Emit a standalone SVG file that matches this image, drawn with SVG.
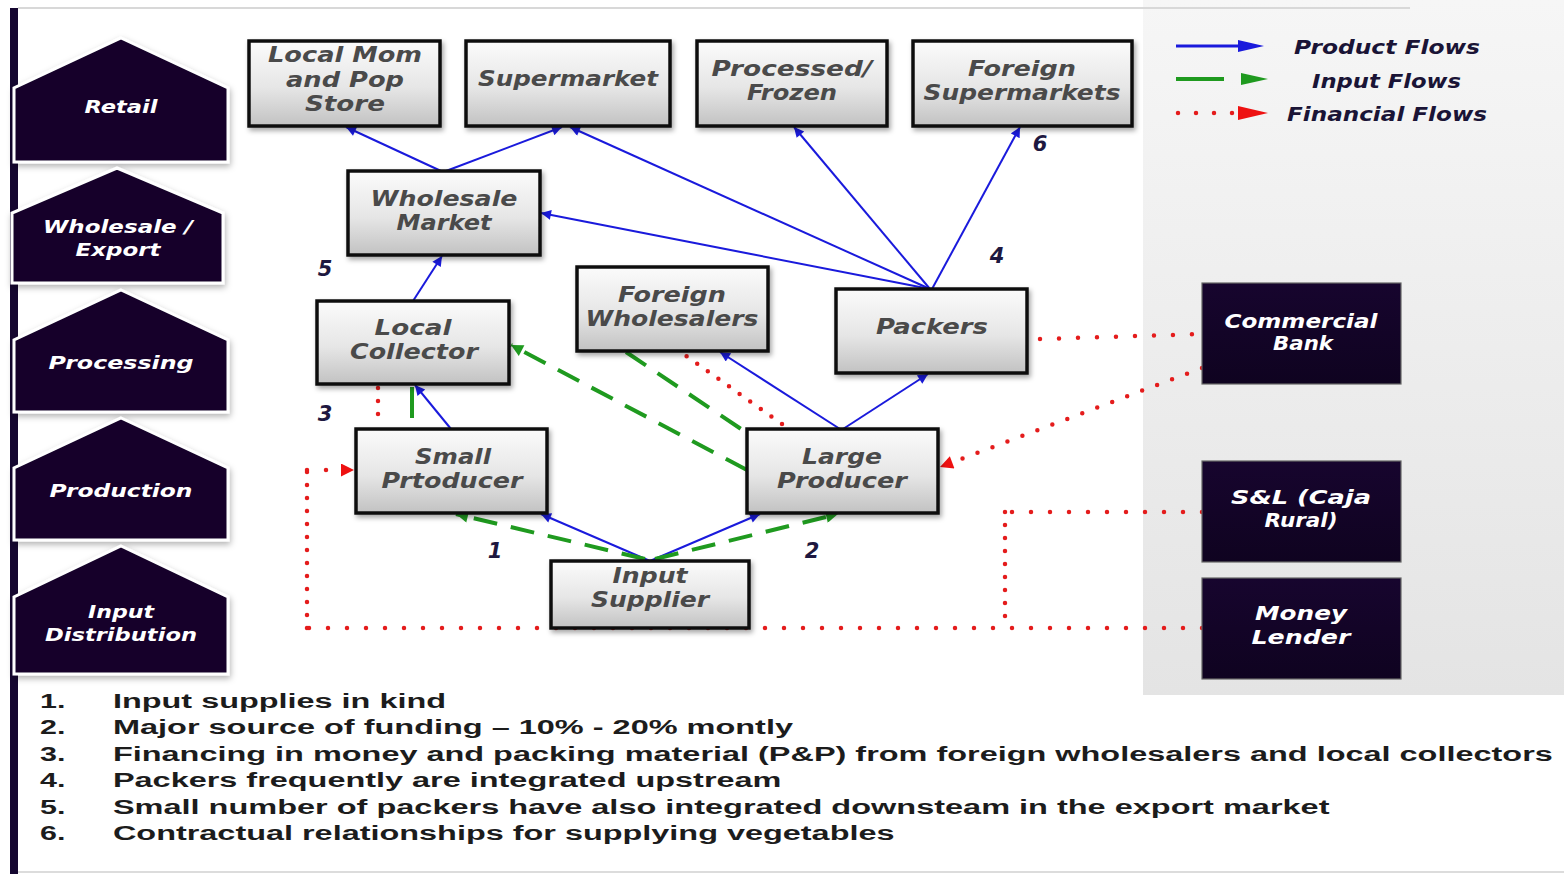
<svg xmlns="http://www.w3.org/2000/svg" width="1564" height="874" viewBox="0 0 1564 874">
<defs>
<linearGradient id="boxg" x1="0" y1="0" x2="0" y2="1">
<stop offset="0" stop-color="#fbfbfb"/><stop offset="0.55" stop-color="#e6e6e6"/><stop offset="1" stop-color="#c2c2c2"/>
</linearGradient>
<linearGradient id="panelg" x1="0" y1="0" x2="0" y2="1">
<stop offset="0" stop-color="#f6f6f6"/><stop offset="1" stop-color="#e4e4e4"/>
</linearGradient>
<linearGradient id="darkg" x1="0" y1="0" x2="0" y2="1">
<stop offset="0" stop-color="#17052e"/><stop offset="1" stop-color="#0f0320"/>
</linearGradient>
<filter id="sh" x="-20%" y="-20%" width="140%" height="150%">
<feDropShadow dx="2" dy="3" stdDeviation="2.5" flood-color="#000" flood-opacity="0.35"/>
</filter>
<filter id="shl" x="-20%" y="-20%" width="140%" height="150%">
<feDropShadow dx="1" dy="3" stdDeviation="3" flood-color="#000" flood-opacity="0.3"/>
</filter>
<marker id="ab" viewBox="0 0 10 10" refX="10" refY="5" markerWidth="12" markerHeight="10" markerUnits="userSpaceOnUse" orient="auto">
<path d="M0,0 L10,5 L0,10 z" fill="#1a1adc"/>
</marker>
<marker id="ag" viewBox="0 0 10 10" refX="10" refY="5" markerWidth="16" markerHeight="12" markerUnits="userSpaceOnUse" orient="auto">
<path d="M0,0 L10,5 L0,10 z" fill="#1f9a1f"/>
</marker>
<marker id="ar" viewBox="0 0 10 10" refX="10" refY="5" markerWidth="18" markerHeight="13" markerUnits="userSpaceOnUse" orient="auto">
<path d="M0,0 L10,5 L0,10 z" fill="#ee1111"/>
</marker>
<style>
.box{fill:url(#boxg);stroke:#111;stroke-width:3.5;filter:url(#sh)}
.bt{font-family:"DejaVu Sans",Verdana,sans-serif;font-weight:bold;font-style:italic;font-size:21px;fill:#4a4a4a;text-anchor:middle}
.pent{fill:#140429;stroke:#fff;stroke-width:3;filter:url(#shl)}
.pt{font-family:"DejaVu Sans",Verdana,sans-serif;font-weight:bold;font-style:italic;font-size:18px;fill:#fff;text-anchor:middle}
.fin{fill:url(#darkg);stroke:#666;stroke-width:1.2}
.ft{font-family:"DejaVu Sans",Verdana,sans-serif;font-weight:bold;font-style:italic;font-size:19px;fill:#fff;text-anchor:middle}
.num{font-family:"DejaVu Sans",Verdana,sans-serif;font-weight:bold;font-style:italic;font-size:21px;fill:#1e1840;text-anchor:middle}
.lg{font-family:"DejaVu Sans",Verdana,sans-serif;font-weight:bold;font-style:italic;font-size:19px;fill:#1a1436}
.blue{stroke:#1a1adc;stroke-width:2;fill:none}
.green{stroke:#1f9a1f;stroke-width:4;fill:none;stroke-dasharray:24 14}
.red{stroke:#e41c1c;stroke-width:4.5;fill:none;stroke-dasharray:0 19;stroke-linecap:round}
.redv{stroke:#e41c1c;stroke-width:4.5;fill:none;stroke-dasharray:0 13;stroke-linecap:round}
.redd{stroke:#e41c1c;stroke-width:4.5;fill:none;stroke-dasharray:0 16;stroke-linecap:round}
.list{font-family:"Liberation Sans",Arial,sans-serif;font-weight:bold;font-size:21px;fill:#1c1c1c}
</style>
</defs>

<rect x="0" y="0" width="1564" height="874" fill="#fff"/>
<rect x="1143" y="0" width="421" height="695" fill="url(#panelg)"/>
<line x1="18" y1="8" x2="1410" y2="8" stroke="#d8d8d8" stroke-width="2"/>
<rect x="10" y="8" width="8" height="866" fill="#150630"/>
<line x1="18" y1="872" x2="1564" y2="872" stroke="#dcdcdc" stroke-width="2"/>

<g id="stages">
<g id="stage-retail"><path class="pent" d="M121,38 L228,88 L228,162 L14,162 L14,88 Z"/><text class="pt" x="121" y="113" textLength="73" lengthAdjust="spacingAndGlyphs">Retail</text></g>
<g id="stage-wholesale"><path class="pent" d="M117,168 L223,213 L223,283 L12,283 L12,213 Z"/><text class="pt" x="118" y="233" textLength="150" lengthAdjust="spacingAndGlyphs">Wholesale /</text><text class="pt" x="118" y="256" textLength="85" lengthAdjust="spacingAndGlyphs">Export</text></g>
<g id="stage-processing"><path class="pent" d="M121,290 L228,340 L228,412 L14,412 L14,340 Z"/><text class="pt" x="121" y="369" textLength="145" lengthAdjust="spacingAndGlyphs">Processing</text></g>
<g id="stage-production"><path class="pent" d="M121,418 L228,468 L228,540 L14,540 L14,468 Z"/><text class="pt" x="121" y="497" textLength="143" lengthAdjust="spacingAndGlyphs">Production</text></g>
<g id="stage-input"><path class="pent" d="M121,546 L228,597 L228,674 L14,674 L14,597 Z"/><text class="pt" x="121" y="618" textLength="66" lengthAdjust="spacingAndGlyphs">Input</text><text class="pt" x="121" y="641" textLength="152" lengthAdjust="spacingAndGlyphs">Distribution</text></g>
</g>

<g id="connectors">
<line class="blue" x1="441" y1="171" x2="346" y2="127" marker-end="url(#ab)"/>
<line class="blue" x1="446" y1="171" x2="562" y2="127" marker-end="url(#ab)"/>
<line class="blue" x1="930" y1="289" x2="570" y2="127" marker-end="url(#ab)"/>
<line class="blue" x1="930" y1="289" x2="541" y2="213" marker-end="url(#ab)"/>
<line class="blue" x1="930" y1="289" x2="794" y2="127" marker-end="url(#ab)"/>
<line class="blue" x1="932" y1="289" x2="1020" y2="127" marker-end="url(#ab)"/>
<line class="blue" x1="413" y1="301" x2="442" y2="256" marker-end="url(#ab)"/>
<line class="blue" x1="451" y1="429" x2="415" y2="385" marker-end="url(#ab)"/>
<line class="blue" x1="840" y1="429" x2="720" y2="352" marker-end="url(#ab)"/>
<line class="blue" x1="843" y1="429" x2="928" y2="374" marker-end="url(#ab)"/>
<line class="blue" x1="650" y1="561" x2="541" y2="514" marker-end="url(#ab)"/>
<line class="blue" x1="650" y1="561" x2="760" y2="514" marker-end="url(#ab)"/>

<line class="green" x1="747" y1="470" x2="511" y2="345" marker-end="url(#ag)"/>
<line class="green" x1="626" y1="352" x2="747" y2="433"/>
<line class="green" x1="412" y1="418" x2="412" y2="387" style="stroke-dasharray:none"/>
<line class="green" x1="645" y1="559" x2="456" y2="514" marker-end="url(#ag)"/>
<line class="green" x1="655" y1="559" x2="838" y2="514" marker-end="url(#ag)"/>

<line class="red" x1="1040" y1="339" x2="1202" y2="334"/>
<line class="redd" x1="1202" y1="368" x2="940" y2="467" marker-end="url(#ar)"/>
<polyline class="red" points="1202,512 1005,512"/>
<polyline class="redv" points="1005,512 1005,628"/>
<polyline class="red" points="1202,628 307,628"/>
<polyline class="redv" points="307,628 307,470"/>
<polyline class="red" points="307,470 354,470" marker-end="url(#ar)"/>
<line class="redv" x1="378" y1="388" x2="378" y2="420"/>
<line class="redv" x1="782" y1="424" x2="682" y2="353"/>
</g>

<g id="n-localmom"><rect class="box" x="249" y="41" width="191" height="85"/><text class="bt" x="345" y="62" textLength="154" lengthAdjust="spacingAndGlyphs">Local Mom</text><text class="bt" x="345" y="87" textLength="118" lengthAdjust="spacingAndGlyphs">and Pop</text><text class="bt" x="345" y="111" textLength="80" lengthAdjust="spacingAndGlyphs">Store</text></g>
<g id="n-supermarket"><rect class="box" x="466" y="41" width="204" height="85"/><text class="bt" x="568" y="86" textLength="180" lengthAdjust="spacingAndGlyphs">Supermarket</text></g>
<g id="n-processed"><rect class="box" x="697" y="41" width="190" height="85"/><text class="bt" x="792" y="76" textLength="161" lengthAdjust="spacingAndGlyphs">Processed/</text><text class="bt" x="792" y="100" textLength="90" lengthAdjust="spacingAndGlyphs">Frozen</text></g>
<g id="n-foreignsup"><rect class="box" x="913" y="41" width="219" height="85"/><text class="bt" x="1022" y="76" textLength="108" lengthAdjust="spacingAndGlyphs">Foreign</text><text class="bt" x="1022" y="100" textLength="197" lengthAdjust="spacingAndGlyphs">Supermarkets</text></g>
<g id="n-wholesale"><rect class="box" x="348" y="171" width="192" height="84"/><text class="bt" x="444" y="206" textLength="147" lengthAdjust="spacingAndGlyphs">Wholesale</text><text class="bt" x="444" y="230" textLength="95" lengthAdjust="spacingAndGlyphs">Market</text></g>
<g id="n-foreignwh"><rect class="box" x="577" y="267" width="191" height="84"/><text class="bt" x="672" y="302" textLength="108" lengthAdjust="spacingAndGlyphs">Foreign</text><text class="bt" x="672" y="326" textLength="173" lengthAdjust="spacingAndGlyphs">Wholesalers</text></g>
<g id="n-collector"><rect class="box" x="317" y="301" width="192" height="83"/><text class="bt" x="413" y="335" textLength="77" lengthAdjust="spacingAndGlyphs">Local</text><text class="bt" x="414" y="359" textLength="128" lengthAdjust="spacingAndGlyphs">Collector</text></g>
<g id="n-packers"><rect class="box" x="836" y="289" width="191" height="84"/><text class="bt" x="932" y="334" textLength="112" lengthAdjust="spacingAndGlyphs">Packers</text></g>
<g id="n-small"><rect class="box" x="356" y="429" width="191" height="84"/><text class="bt" x="453" y="464" textLength="76" lengthAdjust="spacingAndGlyphs">Small</text><text class="bt" x="452" y="488" textLength="141" lengthAdjust="spacingAndGlyphs">Prtoducer</text></g>
<g id="n-large"><rect class="box" x="747" y="429" width="191" height="84"/><text class="bt" x="842" y="464" textLength="80" lengthAdjust="spacingAndGlyphs">Large</text><text class="bt" x="842" y="488" textLength="130" lengthAdjust="spacingAndGlyphs">Producer</text></g>
<g id="n-input"><rect class="box" x="551" y="561" width="198" height="67"/><text class="bt" x="650" y="583" textLength="75" lengthAdjust="spacingAndGlyphs">Input</text><text class="bt" x="650" y="607" textLength="118" lengthAdjust="spacingAndGlyphs">Supplier</text></g>

<g id="n-bank"><rect class="fin" x="1202" y="283" width="199" height="101"/><text class="ft" x="1301" y="328" textLength="153" lengthAdjust="spacingAndGlyphs">Commercial</text><text class="ft" x="1303" y="350" textLength="60" lengthAdjust="spacingAndGlyphs">Bank</text></g>
<g id="n-sl"><rect class="fin" x="1202" y="461" width="199" height="101"/><text class="ft" x="1301" y="504" textLength="140" lengthAdjust="spacingAndGlyphs">S&amp;L (Caja</text><text class="ft" x="1301" y="527" textLength="73" lengthAdjust="spacingAndGlyphs">Rural)</text></g>
<g id="n-lender"><rect class="fin" x="1202" y="578" width="199" height="101"/><text class="ft" x="1301" y="620" textLength="92" lengthAdjust="spacingAndGlyphs">Money</text><text class="ft" x="1301" y="644" textLength="99" lengthAdjust="spacingAndGlyphs">Lender</text></g>

<g id="numbers">
<text class="num" x="1040" y="151">6</text>
<text class="num" x="997" y="263">4</text>
<text class="num" x="325" y="276">5</text>
<text class="num" x="325" y="421">3</text>
<text class="num" x="495" y="558">1</text>
<text class="num" x="812" y="558">2</text>
</g>

<g id="legend">
<line x1="1176" y1="46" x2="1245" y2="46" stroke="#1a1adc" stroke-width="3"/>
<path d="M1238,40 L1264,46 L1238,52 Z" fill="#1a1adc"/>
<text class="lg" x="1294" y="54" textLength="186" lengthAdjust="spacingAndGlyphs">Product Flows</text>
<line x1="1176" y1="79" x2="1224" y2="79" stroke="#1f9a1f" stroke-width="4"/>
<path d="M1241,73 L1268,79 L1241,85 Z" fill="#1f9a1f"/>
<text class="lg" x="1312" y="88" textLength="149" lengthAdjust="spacingAndGlyphs">Input Flows</text>
<line x1="1178" y1="113" x2="1236" y2="113" stroke="#e41c1c" stroke-width="4.5" stroke-dasharray="0 18" stroke-linecap="round"/>
<path d="M1238,106 L1268,113 L1238,120 Z" fill="#ee1111"/>
<text class="lg" x="1287" y="121" textLength="200" lengthAdjust="spacingAndGlyphs">Financial Flows</text>
</g>

<g id="notes" transform="scale(1.45,1)">
<text class="list" x="27.6" y="708">1.</text><text class="list" x="77.9" y="708" textLength="229.7" lengthAdjust="spacingAndGlyphs">Input supplies in kind</text>
<text class="list" x="27.6" y="734.5">2.</text><text class="list" x="77.9" y="734.5" textLength="469" lengthAdjust="spacingAndGlyphs">Major source of funding – 10% - 20% montly</text>
<text class="list" x="27.6" y="761">3.</text><text class="list" x="77.9" y="761" textLength="993" lengthAdjust="spacingAndGlyphs">Financing in money and packing material (P&amp;P) from foreign wholesalers and local collectors</text>
<text class="list" x="27.6" y="787.5">4.</text><text class="list" x="77.9" y="787.5" textLength="461" lengthAdjust="spacingAndGlyphs">Packers frequently are integrated upstream</text>
<text class="list" x="27.6" y="814">5.</text><text class="list" x="77.9" y="814" textLength="839" lengthAdjust="spacingAndGlyphs">Small number of packers have also integrated downsteam in the export market</text>
<text class="list" x="27.6" y="840.5">6.</text><text class="list" x="77.9" y="840.5" textLength="539" lengthAdjust="spacingAndGlyphs">Contractual relationships for supplying vegetables</text>
</g>
</svg>
